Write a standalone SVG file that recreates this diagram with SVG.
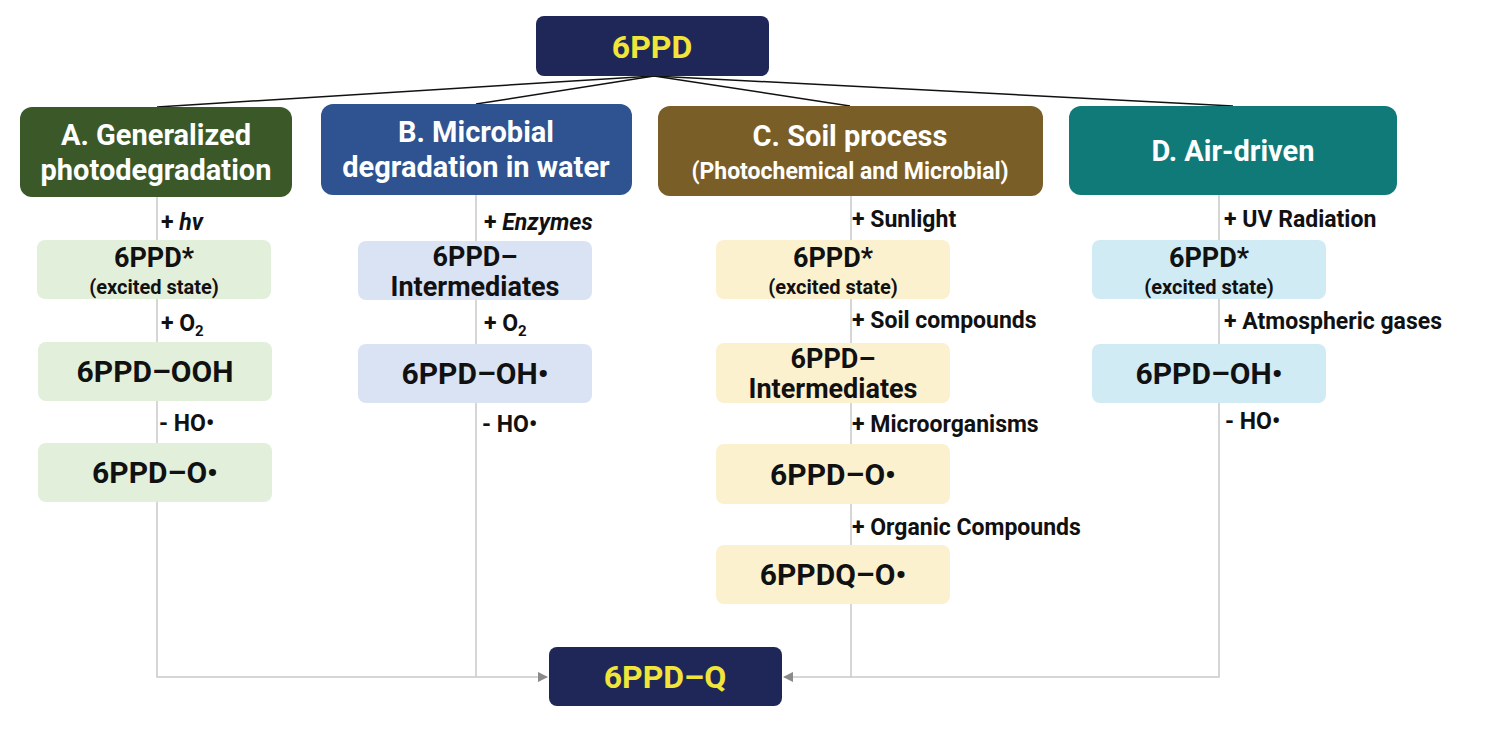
<svg xmlns="http://www.w3.org/2000/svg" width="1495" height="733" viewBox="0 0 1495 733">
<defs>
<style>
text{font-family:Roboto,"Liberation Sans",sans-serif;font-weight:bold;}
.hdr{fill:#ffffff;font-size:29px;text-anchor:middle;}
.top{fill:#f2e53a;font-size:32px;text-anchor:middle;}
.nt{fill:#111111;font-size:30px;text-anchor:middle;}
.nt2{fill:#111111;font-size:27px;text-anchor:middle;}
.sm{fill:#111111;font-size:20px;text-anchor:middle;}
.lbl{fill:#111111;font-size:23px;}
.navy{fill:#1f2758;}
.stem{stroke:#c9c9c9;stroke-width:1.5;fill:none;}
.br{stroke:#111111;stroke-width:1.5;fill:none;}
.ga{fill:#e2efda;}.ba{fill:#dae3f3;}.ya{fill:#fcf1cf;}.ca{fill:#d0ebf3;}
</style>
<marker id="arr" viewBox="0 0 10 10" refX="9" refY="5" markerWidth="7" markerHeight="7" orient="auto"><path d="M0,0 L10,5 L0,10 z" fill="#8a8a8a"/></marker>
</defs>
<rect width="1495" height="733" fill="#ffffff"/>
<g id="connectors">
<line class="br" x1="654" y1="76" x2="157" y2="107"/>
<line class="br" x1="654" y1="76" x2="476" y2="104"/>
<line class="br" x1="654" y1="76" x2="850" y2="106"/>
<line class="br" x1="654" y1="76" x2="1233" y2="106"/>
<polyline class="stem" points="157,197 157,677 547,677" marker-end="url(#arr)"/>
<line class="stem" x1="476" y1="195" x2="476" y2="677"/>
<line class="stem" x1="851" y1="196" x2="851" y2="677"/>
<polyline class="stem" points="1219,195 1219,677 784,677" marker-end="url(#arr)"/>
</g>
<g id="n-6ppd"><rect class="navy" x="536" y="16" width="233" height="60" rx="8"/><text class="top" x="652" y="58">6PPD</text></g>
<g id="n-A"><rect x="20" y="107" width="272" height="90" rx="12" fill="#3b5829"/><text class="hdr" x="156" y="145">A. Generalized</text><text class="hdr" x="156" y="180">photodegradation</text></g>
<g id="n-B"><rect x="321" y="104" width="311" height="91" rx="12" fill="#2e5390"/><text class="hdr" x="476" y="142">B. Microbial</text><text class="hdr" x="476" y="177">degradation in water</text></g>
<g id="n-C"><rect x="658" y="106" width="385" height="90" rx="12" fill="#7a5e27"/><text class="hdr" x="850" y="146">C. Soil process</text><text class="hdr" x="850" y="179" style="font-size:23px">(Photochemical and Microbial)</text></g>
<g id="n-D"><rect x="1069" y="106" width="328" height="89" rx="12" fill="#0f7a78"/><text class="hdr" x="1233" y="161">D. Air-driven</text></g>

<g id="labels">
<text class="lbl" x="161" y="230">+ <tspan font-style="italic">hv</tspan></text>
<text class="lbl" x="161" y="331">+ O<tspan font-size="15" dy="5">2</tspan></text>
<text class="lbl" x="159" y="431">- HO•</text>
<text class="lbl" x="484" y="230">+ <tspan font-style="italic">Enzymes</tspan></text>
<text class="lbl" x="484" y="331">+ O<tspan font-size="15" dy="5">2</tspan></text>
<text class="lbl" x="482" y="432">- HO•</text>
<text class="lbl" x="852" y="227">+ Sunlight</text>
<text class="lbl" x="852" y="328">+ Soil compounds</text>
<text class="lbl" x="852" y="432">+ Microorganisms</text>
<text class="lbl" x="852" y="535">+ Organic Compounds</text>
<text class="lbl" x="1224" y="227">+ UV Radiation</text>
<text class="lbl" x="1224" y="329">+ Atmospheric gases</text>
<text class="lbl" x="1225" y="429">- HO•</text>
</g>

<g id="n-A1"><rect class="ga" x="37" y="240" width="234" height="59" rx="8"/><text class="nt2" x="154" y="267">6PPD*</text><text class="sm" x="154" y="294">(excited state)</text></g>
<g id="n-A2"><rect class="ga" x="38" y="342" width="234" height="59" rx="8"/><text class="nt" x="155" y="382">6PPD–OOH</text></g>
<g id="n-A3"><rect class="ga" x="38" y="443" width="234" height="59" rx="8"/><text class="nt" x="155" y="483">6PPD–O•</text></g>

<g id="n-B1"><rect class="ba" x="358" y="241" width="234" height="59" rx="8"/><text class="nt2" x="475" y="266">6PPD–</text><text class="nt2" x="475" y="296">Intermediates</text></g>
<g id="n-B2"><rect class="ba" x="358" y="344" width="234" height="59" rx="8"/><text class="nt" x="475" y="384">6PPD–OH•</text></g>

<g id="n-C1"><rect class="ya" x="716" y="240" width="234" height="59" rx="8"/><text class="nt2" x="833" y="267">6PPD*</text><text class="sm" x="833" y="294">(excited state)</text></g>
<g id="n-C2"><rect class="ya" x="716" y="343" width="234" height="60" rx="8"/><text class="nt2" x="833" y="368">6PPD–</text><text class="nt2" x="833" y="398">Intermediates</text></g>
<g id="n-C3"><rect class="ya" x="716" y="444" width="234" height="60" rx="8"/><text class="nt" x="833" y="485">6PPD–O•</text></g>
<g id="n-C4"><rect class="ya" x="716" y="545" width="234" height="59" rx="8"/><text class="nt" x="833" y="585">6PPDQ–O•</text></g>

<g id="n-D1"><rect class="ca" x="1092" y="240" width="234" height="59" rx="8"/><text class="nt2" x="1209" y="267">6PPD*</text><text class="sm" x="1209" y="294">(excited state)</text></g>
<g id="n-D2"><rect class="ca" x="1092" y="344" width="234" height="59" rx="8"/><text class="nt" x="1209" y="384">6PPD–OH•</text></g>

<g id="n-6ppdq"><rect class="navy" x="549" y="647" width="233" height="59" rx="8"/><text class="top" x="665" y="688">6PPD–Q</text></g>
</svg>
